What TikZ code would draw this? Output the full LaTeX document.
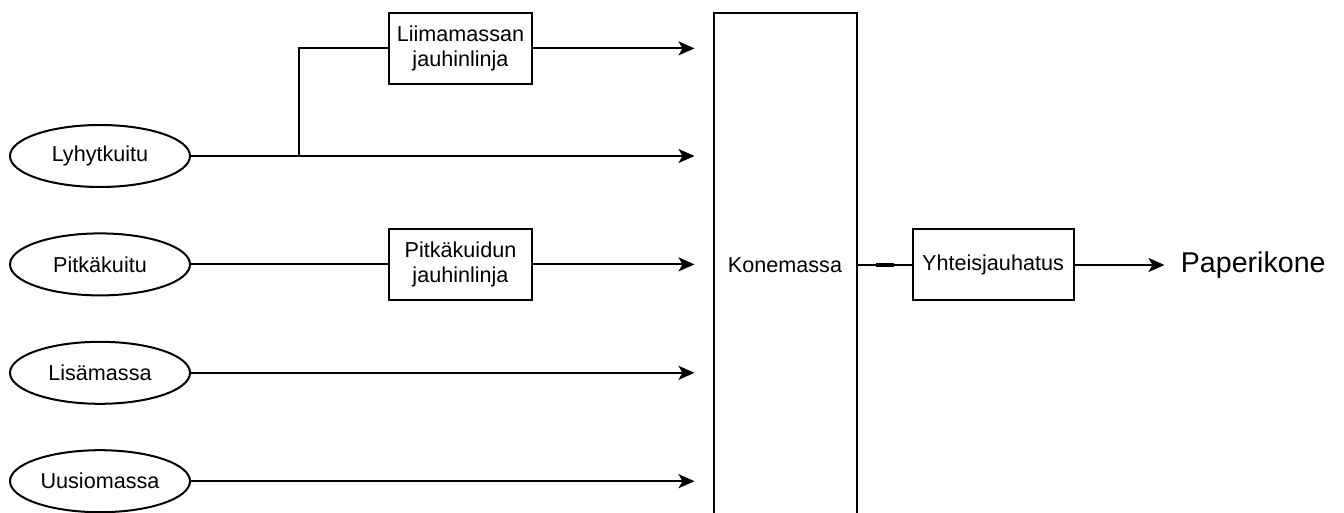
\documentclass[tikz,border=0pt]{standalone}
\usepackage{fontspec}
\setmainfont{Liberation Sans}
\usetikzlibrary{positioning,calc,arrows.meta,shapes}
\tikzset{
  flow/.style={-{Stealth[length=8pt,width=7pt,inset=2pt]},line width=1pt},
  plain/.style={-,line width=1pt},
  source/.style={ellipse,draw,line width=1pt,minimum width=90pt,minimum height=31pt,inner sep=0pt},
  unit/.style={rectangle,draw,line width=1pt,minimum width=71.5pt,minimum height=35.5pt,align=center,inner sep=1pt},
}
\begin{document}
\begin{tikzpicture}[x=0.5pt,y=-0.5pt,font=\fontsize{10.8}{12.5}\selectfont]
  \useasboundingbox (0,0) rectangle (1344,513);

  % raaka-aineet
  \node [source] (lyhyt) at (100,156) {Lyhytkuitu};
  \node [source,below=22.2pt of lyhyt] (pitka) {Pitkäkuitu};
  \node [source,below=22.2pt of pitka] (lisa) {Lisämassa};
  \node [source,below=22.2pt of lisa] (uusio) {Uusiomassa};

  % jauhatus
  \node [unit,right=98.5pt of pitka] (pjauh) {Pitkäkuidun\\jauhinlinja};
  \node [unit,above=71.5pt of pjauh] (ljauh) {Liimamassan\\jauhinlinja};
  \node [unit,minimum height=252pt] (kone) at (785,265) {Konemassa};
  \node [unit,minimum width=80.5pt,right=27pt of kone] (yhteis) {Yhteisjauhatus};
  \node [inner xsep=8pt,inner ysep=2pt,right=45pt of yhteis,font=\fontsize{14.3}{17}\selectfont] (paperi) {Paperikone};

  \coordinate (jn) at ($(lyhyt.east)!0.55!(ljauh.west |- lyhyt.east)$);

  \draw [plain] (jn) |- (ljauh.west);
  \draw [flow,shorten >=9pt] (ljauh.east) -- (ljauh.east -| kone.west);
  \draw [flow,shorten >=9pt] (lyhyt.east) -- (lyhyt.east -| kone.west);
  \draw [plain] (pitka.east) -- (pjauh.west);
  \draw [flow,shorten >=9pt] (pjauh.east) -- (pjauh.east -| kone.west);
  \draw [flow,shorten >=9pt] (lisa.east) -- (lisa.east -| kone.west);
  \draw [flow,shorten >=9pt] (uusio.east) -- (uusio.east -| kone.west);

  \draw [plain] (kone.east |- yhteis.west) -- (yhteis.west);
  \draw [-,line width=2pt] ($(kone.east |- yhteis.west)!0.35!(yhteis.west)$) -- ($(kone.east |- yhteis.west)!0.68!(yhteis.west)$);
  \draw [flow] (yhteis.east) -- (paperi.west);
\end{tikzpicture}
\end{document}
